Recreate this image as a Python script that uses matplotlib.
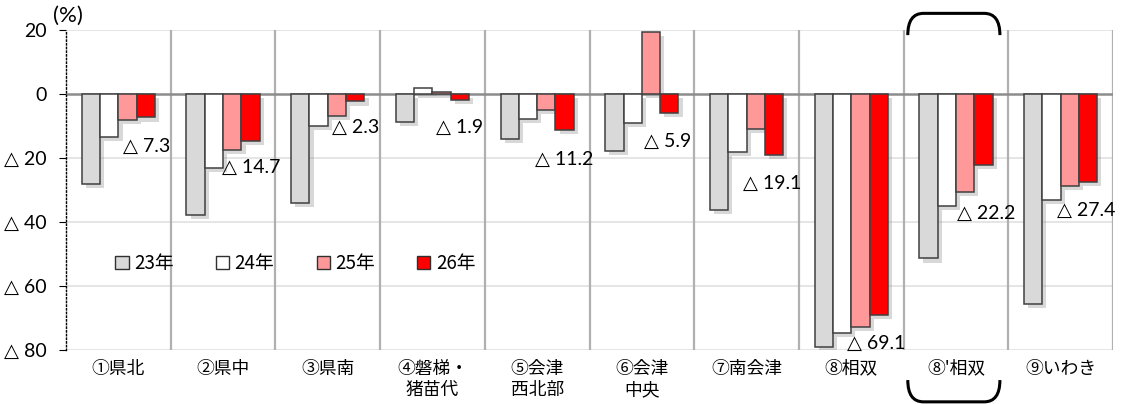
import matplotlib.pyplot as plt
import matplotlib.patheffects as pe
from matplotlib.patches import Patch, PathPatch
from matplotlib.path import Path
from matplotlib.transforms import blended_transform_factory
import numpy as np

plt.rcParams['font.family'] = ['Noto Sans CJK JP', 'DejaVu Sans']
NUM_FONT = ['Lato', 'DejaVu Sans', 'Noto Sans CJK JP']

regions = ['①県北', '②県中', '③県南', '④磐梯・\n猪苗代', '⑤会津\n西北部',
           '⑥会津\n中央', '⑦南会津', '⑧相双', "⑧'相双", '⑨いわき']
years = ['23年', '24年', '25年', '26年']

y23 = [-28.1, -37.8, -34.0, -8.8, -14.1, -17.8, -36.2, -79.0, -51.4, -65.6]
y24 = [-13.4, -23.1, -10.0, 2.0, -7.8, -9.1, -18.0, -74.6, -34.9, -33.1]
y25 = [-8.1, -17.5, -6.8, 0.6, -4.9, 19.3, -11.0, -72.8, -30.7, -28.6]
y26 = [-7.3, -14.7, -2.3, -1.9, -11.2, -5.9, -19.1, -69.1, -22.2, -27.4]

colors = ['#d9d9d9', '#ffffff', '#ff9999', '#ff0000']

# where the 26年 value labels sit: (x offset from group centre, y in data units)
label_pos = [(0.044, -16.3), (-0.01, -23.1), (0.04, -10.6), (0.033, -10.6),
             (-0.02, -20.3), (0.02, -14.7), (-0.033, -27.8), (-0.04, -77.8),
             (0.01, -37.2), (-0.035, -36.3)]


def tri(v):
    return f'△ {abs(v):g}' if v < 0 else f'{v:g}'


fig = plt.figure(figsize=(11.24, 4.04), dpi=100)
ax = fig.add_axes([66 / 1124, 54 / 404, 1047 / 1124, 320 / 404])

x = np.arange(len(regions)) + 0.5
w = 0.175
shadow = [pe.SimplePatchShadow(offset=(3, -3), shadow_rgbFace='#909090', alpha=0.35),
          pe.Normal()]
for k, vals in enumerate([y23, y24, y25, y26]):
    ax.bar(x + (k - 1.5) * w, vals, w, color=colors[k], edgecolor='#404040',
           linewidth=1.1, zorder=3, path_effects=shadow)

for i, v in enumerate(y26):
    dx, ly = label_pos[i]
    ax.text(x[i] + dx, ly, tri(v), ha='left', va='center', fontsize=14,
            family=NUM_FONT, zorder=5)

# grid
for g in [20, -20, -40, -60, -80]:
    ax.axhline(g, color='#e3e3e3', lw=1.3, zorder=1)
ax.axhline(0, color='#8c8c8c', lw=1.8, zorder=2)
for b in range(1, len(regions) + 1):
    ax.axvline(b, color='#b0b0b0', lw=1.6, zorder=1)

ax.set_xlim(0, len(regions))
ax.set_ylim(-80, 20)
ax.set_xticks(x)
ax.set_xticklabels(regions, fontsize=12.8, linespacing=1.25)
ax.tick_params(axis='x', length=0, pad=7)
yt = [20, 0, -20, -40, -60, -80]
ax.set_yticks(yt)
ax.set_yticklabels([tri(v) for v in yt], fontsize=14, family=NUM_FONT)
ax.tick_params(axis='y', length=5, width=0.8, direction='out', pad=9)
for t in ax.yaxis.get_ticklines():
    t.set_linestyle(':')

for s in ['top', 'right', 'bottom']:
    ax.spines[s].set_visible(False)
ax.spines['left'].set_linestyle(':')
ax.spines['left'].set_linewidth(1.0)

ax.text(-0.012, 1.045, '(%)', transform=ax.transAxes, ha='left', va='center',
        fontsize=16, family=NUM_FONT)

handles = [Patch(facecolor=c, edgecolor='#303030', linewidth=1.0) for c in colors]
ax.legend(handles, years, loc='center left', bbox_to_anchor=(0.040, 0.269),
          ncol=4, frameon=False, fontsize=13.5, handlelength=0.7, handleheight=0.7,
          handletextpad=0.3, columnspacing=2.25, borderaxespad=0)

# brackets around the ⑧' group
tr = blended_transform_factory(ax.transData, ax.transAxes)
x0, x1 = 8.04, 8.92


def bracket(ya, yb):
    verts = [(x0, ya), (x0, yb), (x0 + 0.15, yb), (x1 - 0.15, yb), (x1, yb), (x1, ya)]
    codes = [Path.MOVETO, Path.CURVE3, Path.CURVE3, Path.LINETO, Path.CURVE3, Path.CURVE3]
    ax.add_patch(PathPatch(Path(verts, codes), fill=False, lw=2.2, color='black',
                           transform=tr, clip_on=False, zorder=6))


bracket(0.984, 1.052)
bracket(-0.094, -0.162)

fig.savefig('out.png', dpi=100, facecolor='white')
